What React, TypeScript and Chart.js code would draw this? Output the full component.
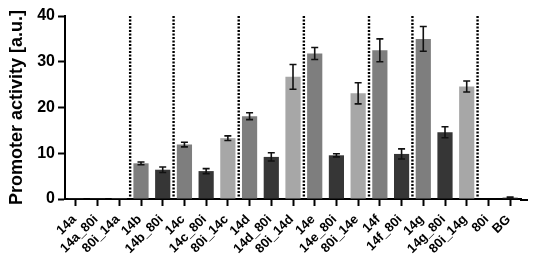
import React, { useEffect, useRef } from "react";
import { Chart, registerables } from "chart.js";

Chart.register(...registerables);

const categories = [
  "14a", "14a_80i", "80i_14a",
  "14b", "14b_80i",
  "14c", "14c_80i", "80i_14c",
  "14d", "14d_80i", "80i_14d",
  "14e", "14e_80i", "80i_14e",
  "14f", "14f_80i",
  "14g", "14g_80i", "80i_14g",
  "80i", "BG",
];
const activity = [
  0.15, 0.2, 0.05,
  7.8, 6.4,
  11.9, 6.1, 13.3,
  18.1, 9.2, 26.7,
  31.8, 9.55, 23.1,
  32.5, 9.85,
  35.0, 14.6, 24.6,
  0.1, 0.3,
];
const activityError = [
  0, 0, 0,
  0.3, 0.6,
  0.5, 0.55, 0.5,
  0.75, 0.9, 2.7,
  1.3, 0.35, 2.3,
  2.5, 1.1,
  2.7, 1.2, 1.2,
  0, 0.15,
];
// dotted separators are drawn after these category indices
const groupBreaks = [2, 4, 7, 10, 13, 15, 18];
const yTicks = [0, 10, 20, 30, 40];

const FONT = "Arial, 'Liberation Sans', sans-serif";

function barColor(label: string): string {
  if (label.startsWith("80i_")) return "#a7a7a7";
  if (label.includes("_80i") || label === "80i" || label === "BG") return "#363636";
  return "#7e7e7e";
}

const extrasPlugin = {
  id: "extras",
  afterDatasetsDraw(chart: any) {
    const ctx = chart.ctx;
    const x = chart.scales.x;
    const y = chart.scales.y;
    const meta = chart.getDatasetMeta(0);
    ctx.save();
    // error bars
    ctx.strokeStyle = "#111";
    ctx.lineWidth = 1.6;
    meta.data.forEach((bar: any, i: number) => {
      const e = activityError[i];
      if (!e) return;
      const v = activity[i];
      const cx = bar.x;
      const top = y.getPixelForValue(v + e);
      const bot = y.getPixelForValue(v - e);
      ctx.beginPath();
      ctx.moveTo(cx, top);
      ctx.lineTo(cx, bot);
      ctx.moveTo(cx - 3.5, top);
      ctx.lineTo(cx + 3.5, top);
      ctx.moveTo(cx - 3.5, bot);
      ctx.lineTo(cx + 3.5, bot);
      ctx.stroke();
    });
    // dotted separators
    ctx.strokeStyle = "#000";
    ctx.lineWidth = 2.4;
    ctx.setLineDash([2, 1.5]);
    groupBreaks.forEach((i) => {
      const px = (x.getPixelForValue(i) + x.getPixelForValue(i + 1)) / 2;
      ctx.beginPath();
      ctx.moveTo(px, chart.chartArea.top);
      ctx.lineTo(px, chart.chartArea.bottom);
      ctx.stroke();
    });
    ctx.setLineDash([]);
    // extend x-axis line a little past the last category
    ctx.lineWidth = 2;
    ctx.beginPath();
    ctx.moveTo(chart.chartArea.right - 1, chart.chartArea.bottom + 1);
    ctx.lineTo(chart.chartArea.right + 7, chart.chartArea.bottom + 1);
    ctx.stroke();
    ctx.restore();
  },
  afterDraw(chart: any) {
    // rotated category labels, anchored at each category tick
    const ctx = chart.ctx;
    const x = chart.scales.x;
    const base = chart.chartArea.bottom;
    ctx.save();
    ctx.fillStyle = "#000";
    ctx.font = `bold 13px ${FONT}`;
    ctx.textAlign = "right";
    ctx.textBaseline = "alphabetic";
    categories.forEach((label, i) => {
      const px = x.getPixelForValue(i);
      ctx.save();
      ctx.translate(px + 1, base + 21);
      ctx.rotate(-Math.PI / 4);
      ctx.fillText(label, 0, 0);
      ctx.restore();
    });
    ctx.restore();
  },
};

export default function App() {
  const canvasRef = useRef<HTMLCanvasElement | null>(null);

  useEffect(() => {
    document.body.style.margin = "0";
    const canvas = canvasRef.current;
    if (!canvas) return;
    const chart = new Chart(canvas, {
      type: "bar",
      data: {
        labels: categories,
        datasets: [
          {
            data: activity,
            backgroundColor: categories.map(barColor),
            borderWidth: 0,
            categoryPercentage: 1,
            barPercentage: 0.7,
          },
        ],
      },
      options: {
        animation: false,
        responsive: true,
        maintainAspectRatio: false,
        layout: { padding: { top: 16, right: 14, left: 0, bottom: 0 } },
        plugins: {
          legend: { display: false },
          tooltip: { enabled: false },
        },
        scales: {
          x: {
            type: "category",
            offset: true,
            grid: {
              offset: false,
              drawOnChartArea: false,
              drawTicks: true,
              tickLength: 7,
              tickWidth: 2,
              tickColor: "#000",
            },
            border: { color: "#000", width: 2 },
            ticks: {
              display: false,
              autoSkip: false,
            },
            afterFit(scale: any) {
              scale.height = 73;
            },
          },
          y: {
            min: 0,
            max: 40,
            afterBuildTicks(scale: any) {
              scale.ticks = yTicks.map((v) => ({ value: v }));
            },
            grid: {
              drawOnChartArea: false,
              drawTicks: true,
              tickLength: 7,
              tickWidth: 2,
              tickColor: "#000",
            },
            border: { color: "#000", width: 2 },
            ticks: {
              color: "#000",
              font: { family: FONT, weight: "bold", size: 16 },
              padding: 3,
            },
            title: {
              display: true,
              text: "Promoter activity [a.u.]",
              color: "#000",
              font: { family: FONT, weight: "bold", size: 18 },
              padding: { top: 6, bottom: 0 },
            },
            afterFit(scale: any) {
              scale.width = 65;
            },
          },
        },
      },
      plugins: [extrasPlugin],
    });
    return () => chart.destroy();
  }, []);

  return (
    <div style={{ width: 535, height: 272, position: "relative", background: "#fff" }}>
      <canvas ref={canvasRef} />
    </div>
  );
}
